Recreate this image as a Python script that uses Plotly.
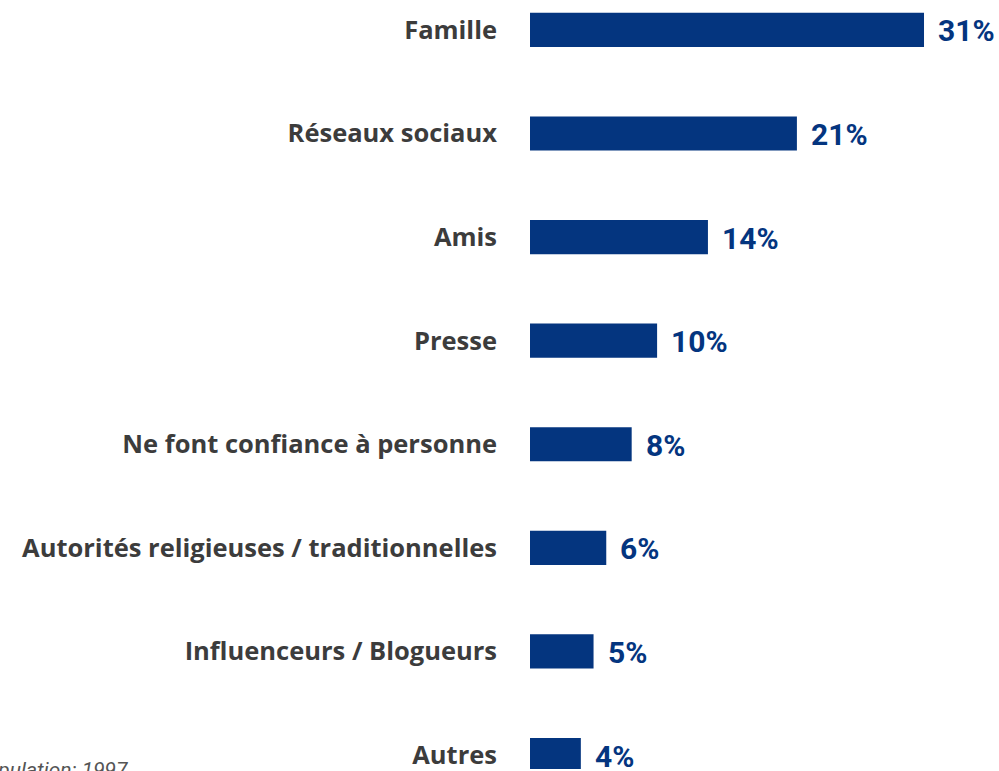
import plotly.graph_objects as go

# Sources de confiance (part des répondants, %)
categories = [
    "Famille",
    "Réseaux sociaux",
    "Amis",
    "Presse",
    "Ne font confiance à personne",
    "Autorités religieuses / traditionnelles",
    "Influenceurs / Blogueurs",
    "Autres",
]
values = [31, 21, 14, 10, 8, 6, 5, 4]
value_labels = [f"{v}%" for v in values]
footnote = "Population: 1997"

BAR_COLOR = "#04357f"
LABEL_COLOR = "#3c3c3c"

fig = go.Figure(
    go.Bar(
        x=values,
        y=categories,
        orientation="h",
        marker=dict(color=BAR_COLOR, line=dict(width=0)),
        width=0.33,
        hoverinfo="skip",
    )
)

for cat, v, lab in zip(categories, values, value_labels):
    fig.add_annotation(
        x=v, y=cat, xref="x", yref="y",
        text=f"<b>{lab}</b>",
        showarrow=False, xanchor="left", yanchor="middle", xshift=12, yshift=-1,
        font=dict(family="Roboto", size=30, color=BAR_COLOR),
    )

fig.add_annotation(
    x=0, y=0, xref="paper", yref="paper",
    text=f"<i>{footnote}</i>",
    showarrow=False, xanchor="right", yanchor="top",
    xshift=-400, yshift=13,
    font=dict(family="Roboto", size=21, color="#555555"),
)

fig.update_layout(
    width=999, height=771,
    margin=dict(l=530, r=0, t=0, b=0),
    paper_bgcolor="white", plot_bgcolor="white",
    showlegend=False,
    xaxis=dict(range=[0, 36.9], visible=False, fixedrange=True),
    yaxis=dict(
        type="category",
        range=[7.135, -0.289],
        showgrid=False, zeroline=False, showline=False, ticks="",
        ticklabelstandoff=32,
        tickfont=dict(family="Open Sans", size=25.5, color=LABEL_COLOR, weight="bold"),
        fixedrange=True,
    ),
)

fig.write_html("out.html")
